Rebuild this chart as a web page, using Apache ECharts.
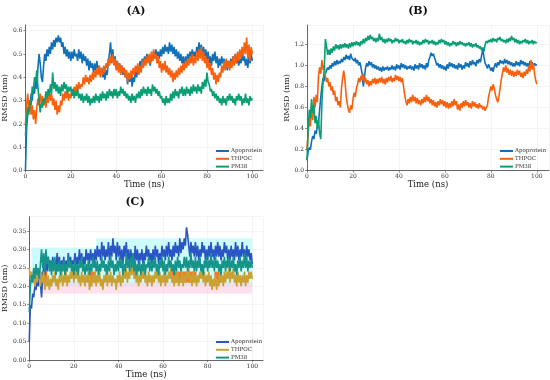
<!DOCTYPE html>
<html><head><meta charset="utf-8">
<script src="https://cdn.jsdelivr.net/npm/echarts@6/dist/echarts.min.js"></script>
<style>html,body{margin:0;padding:0;background:#fff}#c{width:550px;height:380px}</style>
</head><body><div id="c"></div>
<script>
const seriesNames = ['Apoprotein', 'THPOC', 'PM38'];
const panelTitles = ['(A)', '(B)', '(C)'];
const xTicks = [0, 20, 40, 60, 80, 100];
const timeStep = 0.5; // ns between samples

const A_apo = [0.00,0.18,0.24,0.30,0.27,0.33,0.30,0.36,0.33,0.40, 0.35,0.44,0.50,0.46,0.40,0.38,0.45,0.50,0.47,0.52, 0.49,0.53,0.50,0.55,0.52,0.56,0.53,0.57,0.55,0.58, 0.55,0.57,0.53,0.55,0.50,0.53,0.49,0.52,0.48,0.51, 0.47,0.51,0.48,0.52,0.49,0.50,0.47,0.52,0.48,0.51, 0.46,0.50,0.47,0.49,0.45,0.48,0.43,0.47,0.44,0.46, 0.42,0.46,0.43,0.47,0.42,0.45,0.41,0.44,0.40,0.43, 0.39,0.43,0.41,0.46,0.50,0.55,0.48,0.52,0.46,0.49, 0.44,0.47,0.43,0.46,0.42,0.45,0.41,0.44,0.40,0.43, 0.37,0.41,0.38,0.42,0.36,0.40,0.38,0.43,0.40,0.44, 0.42,0.47,0.44,0.48,0.45,0.49,0.46,0.50,0.47,0.49, 0.45,0.49,0.47,0.51,0.48,0.52,0.49,0.51,0.48,0.52, 0.49,0.53,0.50,0.54,0.51,0.53,0.50,0.55,0.51,0.54, 0.50,0.53,0.49,0.52,0.48,0.51,0.47,0.50,0.46,0.49, 0.45,0.49,0.46,0.50,0.47,0.51,0.48,0.52,0.49,0.51, 0.48,0.53,0.50,0.55,0.51,0.54,0.50,0.53,0.49,0.52, 0.47,0.51,0.46,0.49,0.45,0.50,0.47,0.51,0.46,0.49, 0.44,0.48,0.45,0.49,0.46,0.48,0.44,0.47,0.43,0.47, 0.44,0.48,0.45,0.49,0.46,0.50,0.46,0.49,0.45,0.48, 0.46,0.50,0.47,0.49,0.45,0.48,0.44,0.49,0.46,0.50, 0.47];
const A_thpoc = [0.20,0.28,0.33,0.27,0.30,0.24,0.28,0.22,0.26,0.20, 0.27,0.31,0.28,0.33,0.29,0.32,0.28,0.31,0.27,0.32, 0.29,0.34,0.30,0.33,0.28,0.31,0.26,0.30,0.24,0.28, 0.25,0.30,0.28,0.33,0.30,0.34,0.31,0.35,0.30,0.33, 0.31,0.35,0.32,0.36,0.33,0.37,0.34,0.38,0.35,0.37, 0.36,0.40,0.37,0.41,0.38,0.40,0.37,0.41,0.38,0.42, 0.39,0.43,0.40,0.44,0.41,0.45,0.40,0.44,0.41,0.45, 0.42,0.46,0.44,0.48,0.45,0.49,0.46,0.50,0.45,0.48, 0.43,0.47,0.42,0.46,0.41,0.45,0.42,0.44,0.40,0.43, 0.38,0.42,0.39,0.43,0.40,0.44,0.41,0.45,0.42,0.46, 0.41,0.45,0.42,0.47,0.44,0.48,0.45,0.49,0.46,0.50, 0.46,0.51,0.47,0.52,0.48,0.50,0.46,0.49,0.44,0.47, 0.42,0.46,0.43,0.47,0.42,0.45,0.41,0.44,0.40,0.43, 0.38,0.42,0.39,0.43,0.40,0.44,0.41,0.45,0.42,0.46, 0.43,0.47,0.44,0.48,0.45,0.49,0.46,0.50,0.45,0.49, 0.46,0.51,0.47,0.52,0.48,0.53,0.47,0.51,0.46,0.49, 0.44,0.48,0.43,0.46,0.41,0.44,0.39,0.42,0.37,0.41, 0.38,0.42,0.40,0.45,0.42,0.47,0.43,0.48,0.44,0.47, 0.43,0.47,0.44,0.49,0.45,0.50,0.46,0.51,0.47,0.52, 0.48,0.53,0.49,0.55,0.50,0.57,0.48,0.54,0.47,0.53, 0.50];
const A_pm38 = [0.15,0.22,0.27,0.24,0.30,0.28,0.36,0.34,0.40,0.38, 0.43,0.36,0.30,0.25,0.29,0.27,0.31,0.29,0.34,0.31, 0.35,0.32,0.37,0.33,0.42,0.35,0.38,0.34,0.37,0.33, 0.36,0.32,0.37,0.34,0.38,0.35,0.37,0.33,0.36,0.34, 0.36,0.32,0.35,0.31,0.34,0.32,0.35,0.31,0.33,0.30, 0.33,0.29,0.32,0.30,0.33,0.29,0.32,0.28,0.31,0.29, 0.32,0.29,0.33,0.30,0.32,0.29,0.33,0.30,0.34,0.31, 0.33,0.30,0.34,0.31,0.35,0.32,0.34,0.31,0.35,0.32, 0.35,0.31,0.34,0.32,0.36,0.33,0.35,0.32,0.34,0.31, 0.33,0.30,0.32,0.29,0.33,0.30,0.32,0.29,0.33,0.31, 0.34,0.31,0.35,0.32,0.36,0.33,0.35,0.32,0.36,0.33, 0.35,0.32,0.37,0.34,0.36,0.33,0.35,0.32,0.34,0.31, 0.32,0.29,0.31,0.28,0.32,0.29,0.31,0.29,0.33,0.30, 0.34,0.31,0.35,0.32,0.34,0.31,0.35,0.33,0.36,0.32, 0.35,0.32,0.36,0.33,0.35,0.32,0.36,0.33,0.37,0.34, 0.36,0.33,0.37,0.34,0.36,0.33,0.38,0.35,0.39,0.36, 0.42,0.38,0.37,0.34,0.35,0.32,0.34,0.31,0.33,0.30, 0.32,0.29,0.31,0.28,0.32,0.29,0.31,0.28,0.32,0.30, 0.33,0.30,0.32,0.29,0.31,0.28,0.32,0.30,0.33,0.30, 0.32,0.28,0.31,0.29,0.33,0.29,0.31,0.28,0.32,0.30, 0.31];

const B_apo = [0.10,0.18,0.22,0.20,0.28,0.33,0.30,0.38,0.35,0.42, 0.45,0.58,0.70,0.80,0.88,0.85,0.92,0.95,0.98,0.96, 1.00,0.97,1.02,0.99,1.04,1.00,1.05,1.01,1.04,1.02, 1.06,1.03,1.08,1.05,1.10,1.06,1.09,1.05,1.11,1.07, 1.08,1.04,1.07,1.02,1.05,1.00,1.03,0.98,0.92,0.80, 0.88,0.98,1.02,0.99,1.04,1.00,1.03,0.98,1.01,0.97, 1.00,0.96,0.99,0.95,0.98,0.94,0.99,0.95,0.98,0.96, 0.99,0.95,0.98,0.96,1.00,0.96,0.99,0.95,1.01,0.97, 1.00,0.96,1.02,0.98,1.01,0.97,1.00,0.96,0.99,0.97, 1.00,0.96,0.99,0.95,1.01,0.97,1.00,0.96,1.02,0.98, 1.01,0.97,1.00,0.96,1.02,0.98,1.05,1.08,1.12,1.09, 1.11,1.07,1.04,1.00,1.02,0.98,1.01,0.97,1.00,0.96, 0.99,0.95,1.01,0.97,1.03,0.99,1.02,0.98,1.01,0.97, 1.00,0.96,1.02,0.98,1.01,0.96,1.00,0.97,1.03,0.99, 1.02,0.98,1.04,1.00,1.05,1.01,1.03,0.99,1.05,1.02, 1.06,1.03,1.10,1.15,1.08,1.02,1.00,0.97,1.01,0.98, 0.95,0.98,0.94,0.99,1.02,0.98,1.03,1.00,1.05,1.02, 1.04,1.01,1.06,1.02,1.05,1.01,1.04,1.00,1.03,0.99, 1.02,0.99,1.04,1.00,1.03,0.99,1.05,1.01,1.04,1.00, 1.03,0.99,1.02,0.98,1.04,1.00,1.03,0.99,1.02,1.00, 1.01];
const B_thpoc = [0.20,0.35,0.50,0.42,0.62,0.48,0.70,0.60,0.72,0.65, 0.90,0.98,0.92,1.05,0.96,1.00,0.90,0.84,0.88,0.80, 0.84,0.76,0.80,0.72,0.76,0.66,0.70,0.62,0.66,0.60, 0.78,0.88,0.95,0.86,0.72,0.64,0.58,0.55,0.62,0.58, 0.68,0.74,0.70,0.78,0.82,0.88,0.84,0.90,0.86,0.92, 0.84,0.88,0.82,0.86,0.80,0.85,0.81,0.87,0.83,0.88, 0.82,0.87,0.83,0.88,0.84,0.89,0.83,0.87,0.82,0.88, 0.84,0.89,0.85,0.90,0.84,0.88,0.85,0.91,0.86,0.90, 0.85,0.89,0.84,0.88,0.80,0.72,0.66,0.62,0.68,0.64, 0.70,0.65,0.72,0.66,0.70,0.64,0.69,0.63,0.67,0.62, 0.68,0.64,0.70,0.65,0.72,0.66,0.70,0.64,0.68,0.62, 0.67,0.61,0.65,0.60,0.66,0.62,0.68,0.63,0.67,0.61, 0.66,0.60,0.65,0.59,0.64,0.60,0.66,0.61,0.68,0.62, 0.66,0.58,0.63,0.57,0.64,0.60,0.66,0.61,0.67,0.62, 0.65,0.60,0.64,0.59,0.66,0.61,0.65,0.60,0.63,0.59, 0.64,0.60,0.62,0.58,0.61,0.57,0.60,0.62,0.70,0.75, 0.80,0.76,0.82,0.78,0.72,0.68,0.65,0.70,0.78,0.86, 0.92,0.98,0.94,1.00,0.93,0.97,0.91,0.96,0.90,0.95, 0.89,0.94,0.90,0.96,0.91,0.95,0.89,0.93,0.88,0.94, 0.90,0.96,0.92,1.00,0.94,1.05,0.96,1.02,0.92,0.86, 0.82];
const B_pm38 = [0.10,0.40,0.58,0.50,0.68,0.55,0.62,0.45,0.52,0.40, 0.48,0.35,0.30,0.65,0.85,0.95,1.25,1.18,1.10,1.15, 1.10,1.16,1.12,1.18,1.14,1.20,1.16,1.19,1.15,1.20, 1.16,1.20,1.17,1.21,1.17,1.20,1.16,1.21,1.17,1.22, 1.18,1.22,1.19,1.23,1.19,1.22,1.18,1.23,1.20,1.25, 1.21,1.26,1.23,1.28,1.24,1.29,1.25,1.27,1.23,1.26, 1.22,1.26,1.23,1.30,1.24,1.27,1.22,1.25,1.21,1.25, 1.22,1.26,1.23,1.25,1.21,1.24,1.22,1.26,1.23,1.25, 1.21,1.24,1.22,1.25,1.21,1.23,1.20,1.24,1.21,1.25, 1.22,1.24,1.20,1.23,1.21,1.24,1.20,1.23,1.19,1.22, 1.20,1.24,1.21,1.25,1.22,1.24,1.20,1.23,1.21,1.24, 1.20,1.23,1.19,1.22,1.20,1.24,1.21,1.25,1.22,1.24, 1.20,1.23,1.19,1.22,1.18,1.21,1.19,1.23,1.20,1.22, 1.18,1.22,1.19,1.23,1.20,1.22,1.19,1.21,1.18,1.21, 1.19,1.22,1.18,1.21,1.17,1.20,1.18,1.21,1.17,1.19, 1.16,1.18,1.14,1.17,1.13,1.20,1.23,1.21,1.24,1.22, 1.25,1.22,1.26,1.23,1.25,1.22,1.26,1.24,1.27,1.23, 1.25,1.22,1.24,1.21,1.25,1.22,1.26,1.23,1.28,1.24, 1.26,1.22,1.25,1.21,1.24,1.20,1.23,1.21,1.24,1.22, 1.25,1.21,1.24,1.20,1.23,1.21,1.24,1.20,1.23,1.21, 1.22];

const C_apo = [0.05,0.15,0.14,0.18,0.17,0.20,0.19,0.22,0.20,0.23, 0.21,0.17,0.22,0.26,0.23,0.27,0.24,0.28,0.25,0.27, 0.24,0.28,0.25,0.27,0.24,0.29,0.25,0.28,0.24,0.27, 0.25,0.28,0.24,0.27,0.25,0.29,0.26,0.28,0.25,0.27, 0.26,0.29,0.25,0.28,0.26,0.30,0.26,0.29,0.25,0.28, 0.26,0.30,0.27,0.29,0.26,0.30,0.27,0.29,0.26,0.30, 0.27,0.31,0.28,0.30,0.27,0.32,0.28,0.31,0.27,0.30, 0.28,0.32,0.27,0.31,0.28,0.33,0.29,0.31,0.27,0.32, 0.28,0.31,0.27,0.30,0.26,0.31,0.28,0.32,0.27,0.30, 0.26,0.30,0.27,0.29,0.26,0.31,0.27,0.30,0.26,0.29, 0.27,0.30,0.26,0.29,0.27,0.31,0.28,0.30,0.27,0.29, 0.26,0.30,0.27,0.31,0.28,0.30,0.26,0.29,0.27,0.31, 0.28,0.30,0.27,0.31,0.28,0.32,0.28,0.30,0.27,0.31, 0.28,0.32,0.29,0.31,0.28,0.33,0.29,0.32,0.30,0.33, 0.31,0.36,0.34,0.31,0.28,0.32,0.29,0.31,0.28,0.32, 0.28,0.31,0.27,0.30,0.28,0.32,0.29,0.31,0.27,0.30, 0.27,0.31,0.28,0.32,0.28,0.30,0.27,0.31,0.28,0.32, 0.28,0.31,0.27,0.30,0.28,0.32,0.29,0.31,0.27,0.30, 0.27,0.31,0.28,0.30,0.27,0.32,0.28,0.31,0.27,0.30, 0.28,0.32,0.28,0.30,0.27,0.31,0.28,0.30,0.27,0.29, 0.26];
const C_thpoc = [0.25,0.22,0.24,0.21,0.23,0.20,0.23,0.21,0.24,0.22, 0.20,0.23,0.21,0.24,0.19,0.22,0.20,0.23,0.19,0.22, 0.20,0.23,0.21,0.24,0.20,0.22,0.19,0.23,0.21,0.24, 0.20,0.23,0.21,0.24,0.20,0.23,0.21,0.24,0.22,0.25, 0.21,0.24,0.22,0.25,0.21,0.23,0.20,0.24,0.21,0.23, 0.20,0.23,0.21,0.24,0.19,0.22,0.20,0.23,0.21,0.24, 0.20,0.23,0.21,0.24,0.20,0.22,0.19,0.23,0.21,0.24, 0.20,0.23,0.21,0.24,0.20,0.23,0.21,0.22,0.19,0.23, 0.21,0.24,0.20,0.23,0.21,0.24,0.22,0.25,0.21,0.24, 0.22,0.26,0.23,0.27,0.22,0.25,0.21,0.24,0.20,0.23, 0.21,0.24,0.22,0.25,0.21,0.23,0.20,0.24,0.21,0.23, 0.20,0.23,0.21,0.24,0.22,0.25,0.21,0.24,0.20,0.23, 0.21,0.24,0.20,0.23,0.21,0.24,0.22,0.25,0.21,0.23, 0.20,0.23,0.21,0.24,0.20,0.22,0.21,0.24,0.20,0.23, 0.21,0.24,0.22,0.25,0.21,0.23,0.20,0.24,0.21,0.23, 0.20,0.23,0.21,0.24,0.22,0.25,0.21,0.24,0.20,0.23, 0.21,0.24,0.20,0.23,0.19,0.22,0.20,0.23,0.19,0.22, 0.20,0.24,0.21,0.23,0.20,0.24,0.21,0.24,0.22,0.25, 0.21,0.24,0.22,0.25,0.21,0.23,0.20,0.24,0.21,0.23, 0.20,0.23,0.21,0.24,0.20,0.23,0.21,0.24,0.22,0.24, 0.22];
const C_pm38 = [0.13,0.20,0.23,0.21,0.25,0.22,0.26,0.23,0.25,0.22, 0.26,0.30,0.25,0.29,0.24,0.30,0.26,0.28,0.24,0.27, 0.23,0.27,0.24,0.28,0.23,0.26,0.24,0.27,0.23,0.26, 0.24,0.27,0.23,0.26,0.24,0.28,0.25,0.27,0.24,0.26, 0.23,0.27,0.24,0.26,0.23,0.27,0.25,0.28,0.24,0.26, 0.23,0.26,0.24,0.27,0.23,0.26,0.24,0.28,0.25,0.27, 0.24,0.27,0.23,0.26,0.24,0.28,0.25,0.27,0.24,0.26, 0.23,0.27,0.24,0.28,0.25,0.27,0.23,0.26,0.24,0.27, 0.24,0.28,0.25,0.27,0.23,0.26,0.24,0.29,0.25,0.27, 0.24,0.28,0.25,0.29,0.24,0.27,0.23,0.26,0.24,0.27, 0.23,0.26,0.24,0.27,0.23,0.26,0.25,0.28,0.24,0.27, 0.24,0.27,0.25,0.28,0.24,0.26,0.23,0.27,0.25,0.28, 0.24,0.27,0.23,0.26,0.24,0.28,0.25,0.27,0.24,0.26, 0.23,0.27,0.24,0.28,0.25,0.27,0.24,0.26,0.25,0.28, 0.25,0.28,0.24,0.27,0.25,0.29,0.25,0.27,0.24,0.28, 0.24,0.27,0.25,0.28,0.24,0.26,0.23,0.27,0.25,0.28, 0.24,0.27,0.25,0.29,0.25,0.27,0.24,0.28,0.25,0.27, 0.24,0.26,0.23,0.27,0.25,0.28,0.24,0.27,0.25,0.28, 0.24,0.27,0.25,0.28,0.24,0.26,0.23,0.27,0.25,0.28, 0.24,0.27,0.25,0.29,0.25,0.28,0.24,0.27,0.25,0.27, 0.25];

// shaded bands behind panel C: [xStart, xEnd, yLow, yHigh]
const C_cyanBands = [[1, 30, 0.20, 0.305], [30, 100, 0.20, 0.33]];
const C_pinkBands = [[5, 100, 0.18, 0.21]];
const C_orangeBands = [[5, 8, 0.21, 0.24], [27, 30, 0.21, 0.24], [64, 75, 0.21, 0.24], [83, 86, 0.21, 0.24]];

const colorsAB = ['#1170b8', '#f8600e', '#0a9e74'];
const colorsC = ['#2a55c6', '#c9a032', '#17948a'];

function pairs(arr) { return arr.map((v, i) => [i * timeStep, v]); }

const FONT = '"DejaVu Serif", "Liberation Serif", serif';
const grids = [
  {left: 25, top: 25, width: 238, height: 145.7},
  {left: 307, top: 25, width: 242, height: 145.7},
  {left: 28.7, top: 216.7, width: 234.3, height: 144}
];
const yCfg = [
  {max: 0.624, interval: 0.1, fmt: v => v.toFixed(1)},
  {max: 1.383, interval: 0.2, fmt: v => v.toFixed(1)},
  {max: 0.3886, interval: 0.05, fmt: v => v.toFixed(2)}
];
const xMax = [104.7, 105.3, 104.8];

const xAxes = grids.map((g, i) => ({
  type: 'value', gridIndex: i, min: 0, max: xMax[i], interval: 20,
  name: 'Time (ns)', nameLocation: 'middle', nameGap: 9,
  nameTextStyle: {fontFamily: FONT, fontSize: 8.5, color: '#222'},
  axisLine: {lineStyle: {color: '#444', width: 0.8}},
  axisTick: {show: true, length: 2, lineStyle: {color: '#444', width: 0.6}},
  axisLabel: {fontFamily: FONT, fontSize: 6, color: '#333', margin: 3, showMaxLabel: false},
  splitLine: {show: true, lineStyle: {color: '#ececec', width: 0.6}}
}));
const yAxes = grids.map((g, i) => ({
  type: 'value', gridIndex: i, min: 0, max: yCfg[i].max, interval: yCfg[i].interval,
  name: 'RMSD (nm)', nameLocation: 'middle', nameGap: i === 2 ? 17 : 13,
  nameTextStyle: {fontFamily: FONT, fontSize: 8, color: '#222'},
  axisLine: {show: true, lineStyle: {color: '#444', width: 0.8}},
  axisTick: {show: true, length: 2, lineStyle: {color: '#444', width: 0.6}},
  axisLabel: {fontFamily: FONT, fontSize: 6, color: '#333', margin: 3, showMaxLabel: false, formatter: yCfg[i].fmt},
  splitLine: {show: true, lineStyle: {color: '#ececec', width: 0.6}}
}));

const panelData = [[A_apo, A_thpoc, A_pm38], [B_apo, B_thpoc, B_pm38], [C_apo, C_thpoc, C_pm38]];
const series = [];
function bandArea(list, color) {
  return list.map(b => [{xAxis: b[0], yAxis: b[2], itemStyle: {color}}, {xAxis: b[1], yAxis: b[3]}]);
}
// background bands for panel C
series.push({type: 'line', xAxisIndex: 2, yAxisIndex: 2, data: [], silent: true,
  markArea: {silent: true, data: bandArea(C_cyanBands, 'rgba(190,250,250,0.75)')}});
series.push({type: 'line', xAxisIndex: 2, yAxisIndex: 2, data: [], silent: true,
  markArea: {silent: true, data: bandArea(C_pinkBands, 'rgba(255,205,225,0.6)')}});
series.push({type: 'line', xAxisIndex: 2, yAxisIndex: 2, data: [], silent: true,
  markArea: {silent: true, data: bandArea(C_orangeBands, 'rgba(245,110,20,0.9)')}});

const prefixes = ['A', 'B', 'C'];
panelData.forEach((sets, p) => {
  sets.forEach((arr, k) => {
    series.push({
      name: prefixes[p] + ':' + seriesNames[k], type: 'line', xAxisIndex: p, yAxisIndex: p,
      data: pairs(arr), showSymbol: false, symbol: 'none',
      lineStyle: {width: 1.6, color: (p === 2 ? colorsC : colorsAB)[k]},
      itemStyle: {color: (p === 2 ? colorsC : colorsAB)[k]},
      z: 3 + k
    });
  });
});

const legendPos = [{left: 211, top: 143}, {left: 495, top: 143}, {left: 211, top: 334}];
const legends = legendPos.map((pos, p) => ({
  left: pos.left, top: pos.top, orient: 'vertical', itemGap: 1.8,
  icon: 'rect', itemWidth: 13, itemHeight: 2, selectedMode: false,
  data: seriesNames.map(n => prefixes[p] + ':' + n),
  formatter: name => name.split(':')[1],
  textStyle: {fontFamily: FONT, fontSize: 5.5, color: '#333', padding: [0, 0, 0, -3]}
}));

const titlePos = [[136, 11], [418, 11], [135, 202]];
const graphic = titlePos.map((t, i) => ({
  type: 'text', x: t[0], y: t[1],
  style: {text: panelTitles[i], font: 'bold 11px ' + FONT, fill: '#111', align: 'center', verticalAlign: 'middle'}
}));

const chart = echarts.init(document.getElementById('c'), null, {renderer: 'canvas'});
chart.setOption({
  animation: false,
  grid: grids, xAxis: xAxes, yAxis: yAxes, series, legend: legends, graphic
});
</script></body></html>
